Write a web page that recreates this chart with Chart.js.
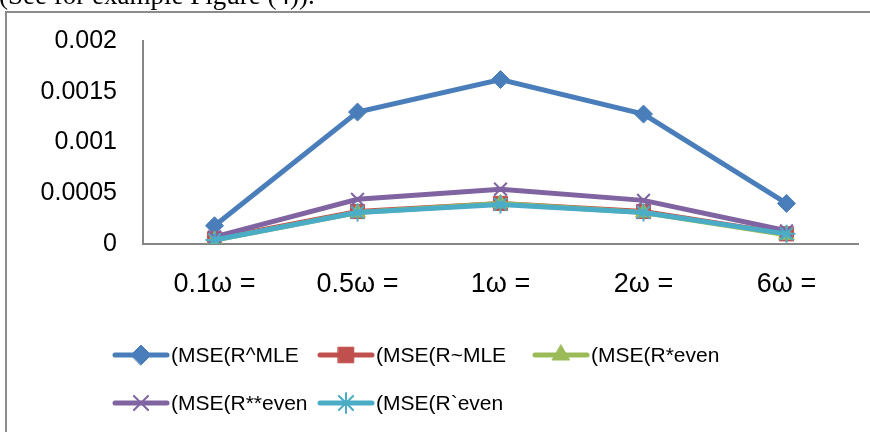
<!DOCTYPE html>
<html>
<head>
<meta charset="utf-8">
<script src="https://cdn.jsdelivr.net/npm/chart.js@4/dist/chart.umd.min.js"></script>
<style>
  html, body { margin: 0; padding: 0; background: #fff; }
  #chart { display: block; }
</style>
</head>
<body>
<canvas id="chart" width="870" height="432"></canvas>
<script>
// data
const categories = ['0.1ω =', '0.5ω =', '1ω =', '2ω =', '6ω ='];
const seriesNames = ['(MSE(R^MLE', '(MSE(R~MLE', '(MSE(R*even', '(MSE(R**even', '(MSE(R`even'];
const mseRHatMle = [0.00018, 0.00130, 0.00162, 0.00128, 0.00040];
const mseRTildeMle = [0.00005, 0.00032, 0.00040, 0.00032, 0.00010];
const mseRStarEven = [0.00004, 0.00031, 0.00040, 0.00031, 0.00009];
const mseRStarStarEven = [0.00007, 0.00044, 0.00054, 0.00043, 0.00013];
const mseRBacktickEven = [0.00004, 0.00031, 0.00039, 0.00031, 0.00010];
const yTicks = [0, 0.0005, 0.001, 0.0015, 0.002];
const yTickLabels = ['0', '0.0005', '0.001', '0.0015', '0.002'];

const colors = ['#4a7ebb', '#c0504d', '#9bbb59', '#8064a2', '#4bacc6'];
const markers = ['rectRot', 'rect', 'triangle', 'crossRot', 'star'];
const markerSize = [9, 10, 9, 9, 9];
const values = [mseRHatMle, mseRTildeMle, mseRStarEven, mseRStarStarEven, mseRBacktickEven];

const Y_FONT = { family: 'Liberation Sans, Arial, sans-serif', size: 25 };
const X_FONT = { family: 'Liberation Sans, Arial, sans-serif', size: 27 };
const LEGEND_FONT = '21px "Liberation Sans", Arial, sans-serif';

// frame of the embedded chart + clipped caption above it
const framePlugin = {
  id: 'frame',
  beforeDraw(chart) {
    const ctx = chart.ctx;
    ctx.save();
    ctx.fillStyle = '#fff';
    ctx.fillRect(0, 0, chart.width, chart.height);
    ctx.fillStyle = '#000';
    ctx.font = '27px "Liberation Serif", "Times New Roman", serif';
    ctx.textBaseline = 'alphabetic';
    ctx.fillText('(See for example Figure (4)).', -1, 4);
    ctx.strokeStyle = '#8c8c8c';
    ctx.lineWidth = 2;
    ctx.beginPath();
    ctx.moveTo(6, chart.height);
    ctx.lineTo(6, 12);
    ctx.lineTo(chart.width, 12);
    ctx.stroke();
    ctx.restore();
  }
};

// excel style legend: line with marker, fixed columns
const legendPlugin = {
  id: 'excelLegend',
  afterDraw(chart) {
    const ctx = chart.ctx;
    const cols = [115, 320, 535];
    const rows = [355, 403];
    ctx.save();
    chart.data.datasets.forEach((ds, i) => {
      const x = cols[i < 3 ? i : i - 3];
      const y = rows[i < 3 ? 0 : 1];
      ctx.strokeStyle = ds.borderColor;
      ctx.lineWidth = 5;
      ctx.lineCap = 'round';
      ctx.beginPath();
      ctx.moveTo(x, y);
      ctx.lineTo(x + 52, y);
      ctx.stroke();
      ctx.fillStyle = ds.pointBackgroundColor;
      ctx.strokeStyle = ds.pointBorderColor;
      ctx.lineWidth = ds.pointBorderWidth;
      Chart.helpers.drawPoint(ctx, { pointStyle: ds.pointStyle, radius: ds.pointRadius + 1, rotation: 0, borderWidth: ds.pointBorderWidth }, x + 26, y);
      ctx.fillStyle = '#000';
      ctx.font = LEGEND_FONT;
      ctx.textBaseline = 'middle';
      ctx.fillText(ds.label, x + 56, y + 1);
    });
    ctx.restore();
  }
};

const datasets = seriesNames.map((name, i) => ({
  label: name,
  data: values[i],
  borderColor: colors[i],
  backgroundColor: colors[i],
  borderWidth: 5,
  pointStyle: markers[i],
  pointRadius: markerSize[i],
  pointBackgroundColor: colors[i],
  pointBorderColor: colors[i],
  pointBorderWidth: (markers[i] === 'crossRot' || markers[i] === 'star') ? 2 : 1,
  tension: 0,
  order: 5 - i
}));

new Chart(document.getElementById('chart'), {
  type: 'line',
  data: { labels: categories, datasets: datasets },
  options: {
    responsive: false,
    devicePixelRatio: 1,
    animation: false,
    layout: { padding: { top: 41, left: 10, right: 12, bottom: 128 } },
    plugins: { legend: { display: false }, tooltip: { enabled: false } },
    scales: {
      x: {
        offset: true,
        grid: { display: false, drawTicks: false },
        border: { display: true, color: '#868686', width: 2 },
        ticks: { color: '#000', font: X_FONT, padding: 24, maxRotation: 0 },
        afterFit(scale) { scale.height = 60; }
      },
      y: {
        min: 0,
        max: 0.002,
        grid: { display: false, drawTicks: false },
        border: { display: true, color: '#868686', width: 2 },
        afterBuildTicks(scale) { scale.ticks = yTicks.map(v => ({ value: v })); },
        ticks: { color: '#000', font: Y_FONT, padding: 26, callback: (v, i) => yTickLabels[i] },
        afterFit(scale) { scale.width = 133; }
      }
    }
  },
  plugins: [framePlugin, legendPlugin]
});
</script>
</body>
</html>
